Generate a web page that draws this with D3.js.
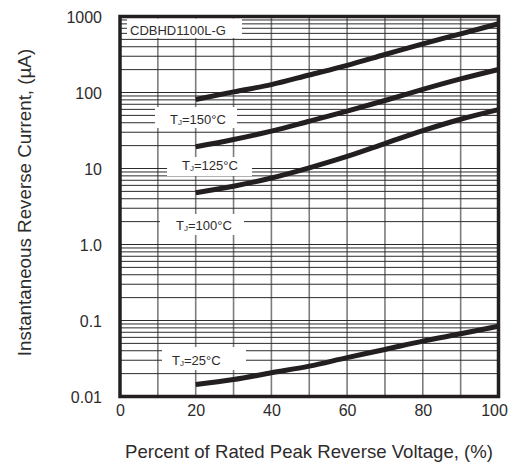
<!DOCTYPE html>
<html>
<head>
<meta charset="utf-8">
<script src="https://cdn.jsdelivr.net/npm/d3@7"></script>
<style>
  html, body { margin: 0; padding: 0; background: #fff; }
  svg { display: block; }
  text { font-family: "Liberation Sans", Arial, Helvetica, sans-serif; fill: #2e2b2c; }
</style>
</head>
<body>
<svg id="chart" width="515" height="464"></svg>
<script>
// ---------------- data ----------------
const voltagePct = [20, 30, 40, 50, 60, 70, 80, 90, 100];
const tj150 = [81, 102, 127, 170, 228, 316, 437, 592, 802];
const tj125 = [19.3, 24.1, 31, 41.9, 57, 78.5, 110, 151, 201];
const tj100 = [4.8, 5.85, 7.5, 10.2, 14.4, 21.3, 31.5, 44.5, 59.5];
const tj25 = [0.0144, 0.0167, 0.0205, 0.0251, 0.0325, 0.0415, 0.0535, 0.0668, 0.084];
const seriesNames = ["150", "125", "100", "25"];
const xTickValues = [0, 20, 40, 60, 80, 100];
const xTickLabels = ["0", "20", "40", "60", "80", "100"];
const yTickValues = [0.01, 0.1, 1, 10, 100, 1000];
const yTickLabels = ["0.01", "0.1", "1.0", "10", "100", "1000"];
const partLabel = "CDBHD1100L-G";
const xTitle = "Percent of Rated Peak Reverse Voltage, (%)";
const yTitle = "Instantaneous Reverse Current, (\u00B5A)";

// ---------------- layout ----------------
const svg = d3.select("#chart");
const pL = 120, pR = 498.5, pT = 16.5, pB = 396.5;
const x = d3.scaleLinear().domain([0, 100]).range([pL, pR]);
const y = d3.scaleLog().domain([0.01, 1000]).range([pB, pT]);
const ink = "#231f20";
const textInk = "#2e2b2c";

// vertical grid
const vgrid = d3.range(10, 100, 10);
svg.append("g").selectAll("line").data(vgrid).join("line")
  .attr("x1", d => x(d)).attr("x2", d => x(d))
  .attr("y1", pT).attr("y2", pB)
  .attr("stroke", "#7d7d7d").attr("stroke-width", 1.6);

// horizontal log grid
const hgrid = [];
[-2, -1, 0, 1, 2].forEach(e => { for (let k = 1; k <= 9; k++) hgrid.push(k * Math.pow(10, e)); });
svg.append("g").selectAll("line").data(hgrid.filter(v => v > 0.01 && v < 1000)).join("line")
  .attr("x1", pL).attr("x2", pR)
  .attr("y1", d => y(d)).attr("y2", d => y(d))
  .attr("stroke", "#2b2b2b").attr("stroke-width", 1);

// annotation boxes (white backgrounds) + text
const annotations = [
  { kind: "part", text: partLabel, bx0: 127, bx1: 242, by0: 18.5, by1: 38, tx: 130, ty: 34.5 },
  { kind: "tj", temp: seriesNames[0], bx0: 155, bx1: 237, by0: 107, by1: 128, tx: 170, ty: 124 },
  { kind: "tj", temp: seriesNames[1], bx0: 167, bx1: 252, by0: 157, by1: 176, tx: 182, ty: 170 },
  { kind: "tj", temp: seriesNames[2], bx0: 160, bx1: 244, by0: 214, by1: 235, tx: 176, ty: 230 },
  { kind: "tj", temp: seriesNames[3], bx0: 162, bx1: 246, by0: 347, by1: 370, tx: 172, ty: 365 }
];
const ag = svg.append("g");
annotations.forEach(a => {
  ag.append("rect").attr("x", a.bx0).attr("y", a.by0)
    .attr("width", a.bx1 - a.bx0).attr("height", a.by1 - a.by0).attr("fill", "#fff");
  const t = ag.append("text").attr("x", a.tx).attr("y", a.ty).attr("font-size", 13);
  if (a.kind === "part") {
    t.text(a.text);
  } else {
    t.append("tspan").text("T");
    t.append("tspan").attr("font-size", 8).attr("dy", 1).text("J");
    t.append("tspan").attr("dy", -1).text("=" + a.temp + "\u00B0C");
  }
});

// curves
const allSeries = [tj150, tj125, tj100, tj25];
const line = d3.line()
  .x((d, i) => x(voltagePct[i]))
  .y(d => y(d))
  .curve(d3.curveMonotoneX);
svg.append("g").selectAll("path").data(allSeries).join("path")
  .attr("d", d => line(d))
  .attr("fill", "none").attr("stroke", ink).attr("stroke-width", 5)
  .attr("stroke-linecap", "butt");

// frame
svg.append("rect").attr("x", pL).attr("y", pT)
  .attr("width", pR - pL).attr("height", pB - pT)
  .attr("fill", "none").attr("stroke", ink).attr("stroke-width", 3.5);

// axes (labels only)
const xAxis = d3.axisBottom(x).tickValues(xTickValues)
  .tickFormat((d, i) => xTickLabels[i]).tickSize(0).tickPadding(0);
const gx = svg.append("g").attr("transform", `translate(0,${pB})`).call(xAxis);
gx.select(".domain").remove();
gx.selectAll("text").attr("font-size", 16).attr("dy", null).attr("y", 19.5)
  .attr("dx", d => d === 100 ? -4.5 : 0)
  .attr("font-family", "Liberation Sans, Arial, sans-serif").attr("fill", textInk);

const yAxis = d3.axisLeft(y).tickValues(yTickValues)
  .tickFormat((d, i) => yTickLabels[i]).tickSize(0).tickPadding(0);
const gy = svg.append("g").attr("transform", `translate(${pL - 18},0)`).call(yAxis);
gy.select(".domain").remove();
gy.selectAll("text").attr("font-size", 16).attr("dy", "0.35em")
  .attr("font-family", "Liberation Sans, Arial, sans-serif").attr("fill", textInk);

// titles
svg.append("text").attr("x", 309).attr("y", 458)
  .attr("text-anchor", "middle").attr("font-size", 18.6).text(xTitle);
svg.append("text").attr("transform", "translate(30.5,202.5) rotate(-90)")
  .attr("text-anchor", "middle").attr("font-size", 18.8).text(yTitle);
</script>
</body>
</html>
